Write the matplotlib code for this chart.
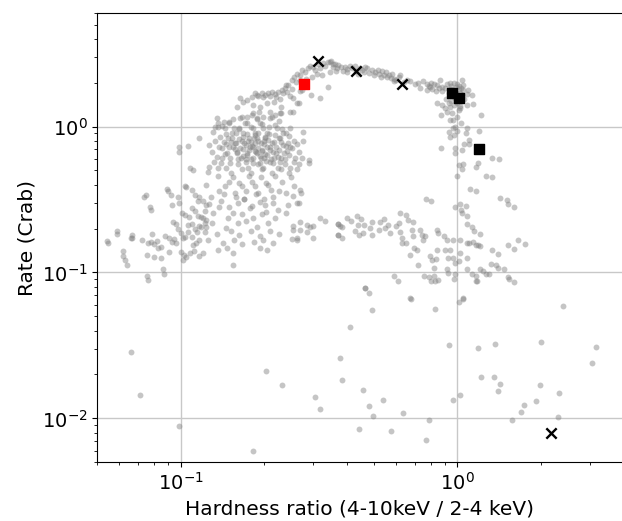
import matplotlib
matplotlib.use('Agg')
import matplotlib.pyplot as plt
import numpy as np

# Hardness ratio (4-10 keV / 2-4 keV) vs rate (Crab).
# Grey points grouped by region of the diagram: (hardness, rate).

soft_tail = [
    (0.0542, 0.165), (0.0589, 0.193), (0.0618, 0.141), (0.0632, 0.121), (0.0638, 0.112),
    (0.0546, 0.158), (0.059, 0.184), (0.062, 0.13), (0.0669, 0.181), (0.067, 0.171),
    (0.0726, 0.168), (0.0752, 0.340), (0.0775, 0.283), (0.076, 0.160), (0.078, 0.163),
    (0.080, 0.157), (0.082, 0.165), (0.0754, 0.132), (0.0788, 0.184), (0.0754, 0.095),
    (0.080, 0.128), (0.085, 0.126), (0.083, 0.148), (0.085, 0.150), (0.0866, 0.105),
    (0.0895, 0.374), (0.091, 0.138), (0.092, 0.340), (0.0932, 0.291), (0.088, 0.178),
    (0.091, 0.172), (0.093, 0.162), (0.095, 0.170), (0.096, 0.158), (0.094, 0.222),
    (0.096, 0.215), (0.098, 0.330), (0.099, 0.300), (0.098, 0.200), (0.099, 0.730),
    (0.099, 0.670), (0.106, 0.740), (0.104, 0.390), (0.101, 0.255), (0.104, 0.248),
    (0.107, 0.240), (0.100, 0.185), (0.102, 0.172), (0.104, 0.176), (0.106, 0.190),
    (0.100, 0.138), (0.103, 0.132), (0.102, 0.122), (0.105, 0.128), (0.108, 0.135),
    (0.108, 0.520), (0.110, 0.370), (0.113, 0.340), (0.116, 0.310), (0.110, 0.275),
    (0.113, 0.262), (0.116, 0.245), (0.110, 0.215), (0.113, 0.200), (0.117, 0.208),
    (0.115, 0.190), (0.110, 0.175), (0.114, 0.160), (0.117, 0.168), (0.111, 0.155),
    (0.112, 0.140), (0.117, 0.130), (0.120, 0.136), (0.117, 0.830), (0.117, 0.330),
    (0.120, 0.310), (0.123, 0.290), (0.120, 0.238), (0.123, 0.228), (0.124, 0.205),
    (0.122, 0.218), (0.076, 0.0886), (0.087, 0.097), (0.090, 0.360), (0.111, 0.507),
    (0.105, 0.387), (0.074, 0.330), (0.078, 0.270), (0.066, 0.171),
]

main_cluster = [
    (0.135, 1.15), (0.150, 1.08), (0.166, 1.16), (0.174, 1.06), (0.189, 1.12), (0.197, 1.04),
    (0.214, 1.17), (0.226, 1.09),
    (0.141, 1.01), (0.156, 0.98), (0.171, 1.05), (0.182, 0.97), (0.193, 1.06), (0.208, 0.99),
    (0.220, 1.02), (0.233, 0.96),
    (0.131, 0.92), (0.145, 0.97), (0.153, 0.91), (0.163, 0.96), (0.168, 0.90), (0.180, 0.99),
    (0.186, 0.91), (0.198, 0.97), (0.205, 0.90), (0.223, 0.98), (0.241, 0.91), (0.249, 0.97),
    (0.139, 0.85), (0.146, 0.89), (0.153, 0.84), (0.159, 0.90), (0.168, 0.85), (0.173, 0.89),
    (0.184, 0.84), (0.191, 0.90), (0.201, 0.85), (0.209, 0.89), (0.228, 0.84), (0.235, 0.90),
    (0.247, 0.86),
    (0.133, 0.80), (0.143, 0.78), (0.148, 0.83), (0.157, 0.77), (0.162, 0.82), (0.170, 0.77),
    (0.177, 0.84), (0.180, 0.78), (0.189, 0.83), (0.195, 0.77), (0.202, 0.84), (0.217, 0.78),
    (0.227, 0.83), (0.244, 0.77), (0.257, 0.80),
    (0.138, 0.73), (0.146, 0.76), (0.150, 0.72), (0.159, 0.77), (0.164, 0.71), (0.172, 0.75),
    (0.178, 0.72), (0.186, 0.77), (0.191, 0.71), (0.200, 0.76), (0.205, 0.72), (0.214, 0.77),
    (0.221, 0.72), (0.235, 0.75), (0.248, 0.72), (0.263, 0.76),
    (0.130, 0.67), (0.141, 0.71), (0.147, 0.66), (0.155, 0.72), (0.160, 0.67), (0.168, 0.70),
    (0.173, 0.66), (0.183, 0.72), (0.187, 0.67), (0.196, 0.69), (0.201, 0.65), (0.210, 0.72),
    (0.216, 0.67), (0.226, 0.69), (0.237, 0.66), (0.253, 0.71), (0.267, 0.67),
    (0.135, 0.62), (0.145, 0.65), (0.151, 0.61), (0.160, 0.66), (0.165, 0.61), (0.174, 0.64),
    (0.179, 0.60), (0.188, 0.66), (0.195, 0.61), (0.205, 0.64), (0.212, 0.60), (0.222, 0.66),
    (0.231, 0.61), (0.246, 0.64), (0.259, 0.61),
    (0.132, 0.57), (0.141, 0.61), (0.151, 0.56), (0.161, 0.60), (0.172, 0.57), (0.183, 0.61),
    (0.193, 0.56), (0.200, 0.61), (0.211, 0.57), (0.218, 0.61), (0.229, 0.57), (0.239, 0.60),
    (0.256, 0.57), (0.274, 0.61),
    (0.127, 0.53), (0.140, 0.56), (0.146, 0.52), (0.161, 0.55), (0.175, 0.52), (0.190, 0.55),
    (0.199, 0.52), (0.215, 0.56), (0.225, 0.52), (0.238, 0.55), (0.249, 0.52), (0.267, 0.55),
    (0.126, 0.49), (0.137, 0.52), (0.152, 0.48), (0.166, 0.51), (0.180, 0.48), (0.197, 0.51),
    (0.213, 0.48), (0.230, 0.51), (0.246, 0.48), (0.263, 0.51),
    (0.277, 0.92), (0.277, 0.79), (0.291, 0.59), (0.291, 0.56), (0.127, 0.75), (0.136, 0.99),
    (0.162, 0.98), (0.175, 0.79), (0.185, 0.68), (0.200, 0.79), (0.168, 0.63), (0.193, 0.63),
    (0.181, 0.74), (0.190, 0.80), (0.197, 0.68), (0.176, 0.69), (0.207, 0.81), (0.211, 0.69),
    (0.157, 0.70), (0.166, 0.79), (0.185, 0.87), (0.219, 0.87), (0.230, 0.78), (0.243, 0.68),
    (0.152, 0.78), (0.172, 0.60), (0.183, 0.56), (0.204, 0.58), (0.225, 0.62), (0.240, 0.74),
]

mid_cluster = [
    (0.137, 0.46), (0.149, 0.42), (0.155, 0.45), (0.162, 0.41), (0.176, 0.46), (0.181, 0.42),
    (0.195, 0.45), (0.203, 0.41), (0.219, 0.46), (0.233, 0.42), (0.250, 0.45),
    (0.124, 0.40), (0.138, 0.36), (0.145, 0.39), (0.157, 0.35), (0.166, 0.39), (0.172, 0.36),
    (0.185, 0.39), (0.191, 0.35), (0.207, 0.40), (0.212, 0.37), (0.226, 0.36), (0.256, 0.39),
    (0.270, 0.37),
    (0.129, 0.33), (0.143, 0.345), (0.169, 0.32), (0.187, 0.345), (0.216, 0.33), (0.240, 0.35),
    (0.272, 0.35), (0.255, 0.335), (0.158, 0.33), (0.200, 0.32),
    (0.127, 0.295), (0.140, 0.31), (0.150, 0.28), (0.161, 0.30), (0.170, 0.32), (0.181, 0.285),
    (0.194, 0.305), (0.201, 0.29), (0.215, 0.30), (0.244, 0.29), (0.264, 0.30),
    (0.122, 0.265), (0.138, 0.28), (0.154, 0.255), (0.178, 0.275), (0.204, 0.26), (0.225, 0.27),
    (0.118, 0.24), (0.131, 0.255), (0.148, 0.235), (0.166, 0.25), (0.182, 0.238), (0.197, 0.252),
    (0.219, 0.238), (0.241, 0.255),
    (0.106, 0.212), (0.118, 0.205), (0.130, 0.22), (0.146, 0.203), (0.161, 0.217), (0.172, 0.224),
    (0.189, 0.204), (0.206, 0.218), (0.255, 0.207), (0.270, 0.222), (0.285, 0.212), (0.294, 0.205),
    (0.122, 0.19), (0.135, 0.184), (0.152, 0.193), (0.163, 0.18), (0.179, 0.192), (0.194, 0.178),
    (0.211, 0.193), (0.227, 0.183), (0.255, 0.195), (0.285, 0.19),
    (0.126, 0.167), (0.142, 0.16), (0.156, 0.168), (0.167, 0.156), (0.184, 0.163), (0.198, 0.168),
    (0.216, 0.158), (0.252, 0.17), (0.263, 0.172),
    (0.136, 0.143), (0.147, 0.148), (0.155, 0.137), (0.193, 0.148), (0.205, 0.143),
    (0.155, 0.112), (0.319, 0.237), (0.370, 0.215), (0.370, 0.180), (0.331, 0.225),
    (0.300, 0.207), (0.300, 0.171), (0.270, 0.196), (0.263, 0.168), (0.267, 0.30),
]

upper_arc = [
    (0.181, 1.59), (0.185, 1.69), (0.190, 1.62), (0.197, 1.69), (0.202, 1.64), (0.207, 1.69),
    (0.214, 1.72), (0.219, 1.67), (0.225, 1.72), (0.233, 1.77), (0.238, 1.83), (0.245, 1.92),
    (0.252, 2.08), (0.257, 2.18), (0.263, 2.28), (0.270, 2.25), (0.275, 2.43), (0.282, 2.36),
    (0.288, 2.51), (0.294, 2.59), (0.301, 2.55), (0.306, 2.43), (0.314, 2.67), (0.319, 2.51),
    (0.328, 2.71), (0.333, 2.59), (0.341, 2.75), (0.350, 2.80), (0.362, 2.67), (0.371, 2.63),
    (0.262, 2.02), (0.270, 2.08), (0.284, 2.11), (0.298, 2.18), (0.312, 2.28), (0.325, 2.25),
    (0.346, 2.36), (0.364, 2.39),
    (0.275, 1.77), (0.296, 1.64), (0.319, 1.56), (0.255, 1.56), (0.264, 1.45), (0.248, 1.25),
    (0.270, 1.75), (0.240, 1.92), (0.252, 1.80),
    (0.164, 1.56), (0.168, 1.48), (0.160, 1.36), (0.174, 1.53), (0.183, 1.40), (0.193, 1.36),
    (0.205, 1.44), (0.217, 1.48), (0.231, 1.36), (0.183, 1.23), (0.192, 1.26), (0.210, 1.26),
    (0.228, 1.23), (0.136, 1.05), (0.133, 1.00), (0.143, 1.08), (0.149, 1.05), (0.155, 1.12),
    (0.164, 1.14), (0.174, 1.17), (0.181, 1.20), (0.188, 1.14), (0.199, 1.17), (0.210, 1.14),
    (0.219, 1.20), (0.231, 1.23), (0.255, 1.26), (0.267, 1.44),
    (0.189, 1.64), (0.199, 1.59), (0.210, 1.62), (0.222, 1.59), (0.234, 1.69), (0.228, 1.54),
    (0.243, 1.72), (0.248, 1.62), (0.340, 1.86),
    (0.346, 2.77), (0.356, 2.70), (0.367, 2.50), (0.393, 2.56), (0.416, 2.50), (0.452, 2.43),
    (0.471, 2.50), (0.490, 2.43), (0.498, 2.25), (0.520, 2.31), (0.541, 2.25), (0.556, 2.19),
    (0.580, 2.28), (0.588, 2.13), (0.613, 2.17), (0.675, 2.06), (0.733, 1.85), (0.775, 1.97),
    (0.775, 1.77), (0.797, 1.87), (0.820, 1.97), (0.843, 1.92), (0.866, 2.08), (0.878, 1.87),
    (0.380, 2.58), (0.400, 2.48), (0.430, 2.40), (0.445, 2.52), (0.460, 2.36), (0.505, 2.38),
    (0.530, 2.20), (0.565, 2.27), (0.600, 2.10), (0.640, 2.02), (0.700, 1.96),
    (0.385, 2.42), (0.410, 2.62), (0.438, 2.30), (0.478, 2.33), (0.515, 2.45), (0.550, 2.35),
    (0.573, 2.15), (0.620, 2.25), (0.655, 2.10), (0.720, 2.00), (0.750, 2.05), (0.805, 1.98),
    (0.355, 2.55), (0.398, 2.35), (0.425, 2.60), (0.465, 2.55), (0.535, 2.40), (0.590, 2.05),
]

hard_branch = [
    (0.90, 1.85), (0.92, 1.95), (0.94, 1.80), (0.95, 1.90), (0.97, 2.00), (0.98, 1.75),
    (0.99, 1.88), (1.00, 1.95), (1.01, 1.80), (1.02, 1.70), (1.03, 1.85), (1.04, 1.65),
    (1.05, 1.78), (0.93, 1.70), (0.96, 1.62), (0.88, 1.75), (0.86, 1.85), (0.84, 1.75),
    (0.81, 1.82), (0.79, 1.90), (0.91, 1.55), (0.95, 1.50), (1.00, 1.45), (1.06, 1.55),
    (1.08, 1.68), (0.97, 1.40), (0.93, 1.45), (1.02, 1.38), (1.09, 1.78), (1.13, 1.64),
    (1.14, 1.42), (1.08, 1.40), (1.04, 2.10), (1.05, 1.92),
    (0.843, 1.44), (0.878, 1.40), (0.903, 1.33), (0.916, 1.26), (0.873, 1.20), (0.941, 1.36),
    (0.954, 1.23), (0.967, 1.11), (0.941, 1.11), (1.01, 1.30), (0.995, 1.17), (1.02, 1.33),
    (0.98, 1.00), (1.22, 1.20), (1.08, 0.97), (1.07, 0.90), (0.93, 0.92), (0.94, 0.85),
    (0.97, 0.875), (1.10, 0.81), (1.06, 0.76), (1.20, 0.935), (0.873, 0.71), (0.98, 0.71),
    (0.98, 0.66), (1.33, 0.61), (1.01, 0.545), (1.04, 0.51), (1.17, 0.53), (1.19, 0.56),
    (0.995, 0.46), (1.27, 0.46), (1.11, 0.372), (0.77, 0.32), (1.43, 0.326), (1.52, 0.294),
    (0.98, 0.283), (1.02, 0.296), (1.04, 0.255), (0.621, 0.257), (1.08, 0.216), (1.15, 0.193),
    (1.66, 0.166), (1.52, 0.154), (1.33, 0.142), (1.32, 0.114), (1.38, 0.112), (1.52, 0.093),
    (1.21, 0.105), (1.24, 0.103), (1.17, 0.094), (1.17, 0.087), (1.13, 0.097), (1.08, 0.105),
    (1.05, 0.067), (0.96, 0.98), (1.00, 0.93), (1.03, 1.05), (1.04, 0.69), (1.10, 0.76),
    (1.05, 0.55), (1.17, 0.36), (1.33, 0.45), (1.41, 0.60), (1.51, 0.315), (1.60, 0.28),
    (1.76, 0.156), (1.60, 0.144), (1.47, 0.105), (1.40, 0.133), (1.40, 0.107), (1.60, 0.086),
    (1.27, 0.098), (1.30, 0.097), (1.21, 0.183), (1.13, 0.204), (1.17, 0.154), (1.19, 0.155),
    (1.21, 0.153), (1.08, 0.245), (1.07, 0.284), (1.03, 0.27), (0.80, 0.31),
    (0.96, 1.78), (0.99, 1.70), (1.01, 1.90), (0.94, 1.98), (0.98, 1.58), (1.03, 1.55),
]

low_branch = [
    (0.370, 0.215), (0.375, 0.207), (0.370, 0.181), (0.400, 0.236), (0.434, 0.245), (0.425, 0.191),
    (0.439, 0.212), (0.458, 0.212), (0.456, 0.187), (0.484, 0.202), (0.490, 0.181), (0.490, 0.223),
    (0.520, 0.196), (0.525, 0.221), (0.545, 0.232), (0.548, 0.202), (0.563, 0.212), (0.571, 0.187),
    (0.601, 0.207), (0.613, 0.218), (0.620, 0.189), (0.630, 0.173), (0.630, 0.159), (0.653, 0.160),
    (0.662, 0.230), (0.684, 0.196), (0.690, 0.177), (0.694, 0.147), (0.675, 0.132), (0.717, 0.143),
    (0.723, 0.113), (0.733, 0.196), (0.744, 0.181), (0.750, 0.168), (0.765, 0.177), (0.797, 0.129),
    (0.810, 0.122), (0.838, 0.124), (0.824, 0.108), (0.843, 0.196), (0.854, 0.187), (0.847, 0.143),
    (0.891, 0.177), (0.903, 0.143), (0.916, 0.168), (0.928, 0.126), (0.941, 0.143), (0.916, 0.106),
    (0.967, 0.168), (0.980, 0.116), (0.962, 0.126), (1.02, 0.168), (1.02, 0.137), (1.01, 0.119),
    (1.08, 0.160), (1.08, 0.126), (1.10, 0.160), (1.14, 0.163), (0.760, 0.095), (0.786, 0.093),
    (0.588, 0.094), (0.820, 0.094), (0.928, 0.099), (0.980, 0.098), (0.462, 0.078), (0.675, 0.067),
    (0.382, 0.204), (0.382, 0.171), (0.411, 0.225), (0.448, 0.231), (0.440, 0.181), (0.65, 0.249),
    (0.69, 0.222), (0.478, 0.072), (0.61, 0.087), (0.80, 0.088), (0.83, 0.087), (0.85, 0.089),
    (0.97, 0.090),
]

faint_points = [
    (0.0663, 0.0283), (0.0711, 0.0144), (0.0983, 0.00882), (0.183, 0.0060), (0.204, 0.0211),
    (0.233, 0.0168), (0.306, 0.0141), (0.319, 0.0116), (0.375, 0.0259), (0.383, 0.0184),
    (0.410, 0.0420), (0.440, 0.0085), (0.456, 0.0157), (0.463, 0.0784), (0.478, 0.0122),
    (0.490, 0.0550), (0.494, 0.0104), (0.540, 0.0133), (0.576, 0.0082), (0.636, 0.0108),
    (0.677, 0.0656), (0.767, 0.0071), (0.791, 0.0098), (0.832, 0.0566), (0.929, 0.0320),
    (0.962, 0.0133), (1.01, 0.0630), (1.02, 0.0144), (1.05, 0.0656), (1.18, 0.0870),
    (1.19, 0.0303), (1.22, 0.0192), (1.35, 0.0192), (1.37, 0.0325), (1.40, 0.0155),
    (1.42, 0.0172), (1.53, 0.0895), (1.58, 0.0097), (1.70, 0.0110), (1.74, 0.0123),
    (1.92, 0.0132), (1.98, 0.0170), (2.00, 0.0334), (2.31, 0.0102), (2.32, 0.0149),
    (2.41, 0.0592), (3.05, 0.0240), (3.17, 0.0310),
]

# highlighted observations
cross_hr = [0.314, 0.43, 0.63, 2.18]
cross_rate = [2.80, 2.39, 1.95, 0.0079]
square_hr = [0.957, 1.01, 1.20]
square_rate = [1.69, 1.57, 0.70]
red_hr = [0.279]
red_rate = [1.95]

grey = np.array(soft_tail + main_cluster + mid_cluster + upper_arc
                + hard_branch + low_branch + faint_points)

fig = plt.figure(figsize=(6.22, 5.21), dpi=100)
ax = fig.add_axes([0.1564, 0.1127, 0.8436, 0.8623])

ax.scatter(grey[:, 0], grey[:, 1], s=18, color='grey', alpha=0.45,
           linewidths=0, zorder=2)
ax.scatter(cross_hr, cross_rate, marker='x', s=55, color='black',
           linewidths=1.7, zorder=4)
ax.scatter(square_hr, square_rate, marker='s', s=60, color='black', zorder=4)
ax.scatter(red_hr, red_rate, marker='s', s=60, color='red', zorder=4)

ax.set_xscale('log')
ax.set_yscale('log')
ax.set_xlim(0.05, 3.93)
ax.set_ylim(0.005, 6.0)
ax.grid(True, which='major', color='#c8c8c8', linewidth=1.0, zorder=1)
ax.set_axisbelow(True)
ax.spines['right'].set_visible(False)
ax.tick_params(labelsize=14)
ax.set_xlabel('Hardness ratio (4-10keV / 2-4 keV)', fontsize=14.5)
ax.set_ylabel('Rate (Crab)', fontsize=14.5)

fig.savefig('out.png', dpi=100)
